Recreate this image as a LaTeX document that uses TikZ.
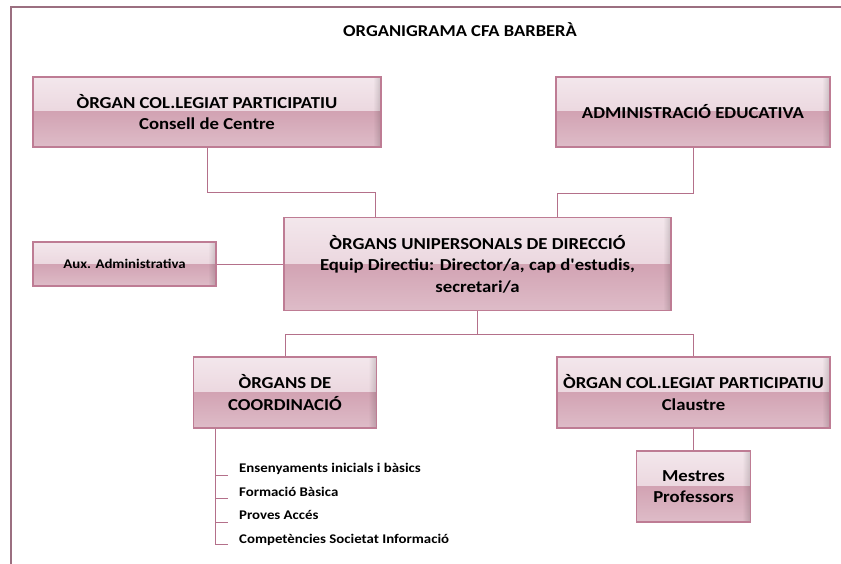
\documentclass[tikz,border=0pt]{standalone}
\usepackage{fontspec}
\newfontfamily\cf{Carlito}[FakeStretch=1.12]
\usetikzlibrary{fadings}
\definecolor{frame}{HTML}{9B6F80}
\definecolor{bord}{HTML}{BE7C94}
\definecolor{conn}{HTML}{B4708A}
\definecolor{gA}{HTML}{F3E7EC}
\definecolor{gB}{HTML}{E4C8D2}
\definecolor{gC}{HTML}{D2A3B3}
\definecolor{gD}{HTML}{DEBCC8}
\tikzset{
  orgbox/.style={draw=bord, line width=1.2bp, inner sep=2bp, align=center,
    font=\cf\bfseries\fontsize{16.8}{21.5}\selectfont,
    path picture={
      \shade[top color=gA, bottom color=gB]
        (path picture bounding box.north west) rectangle (path picture bounding box.east);
      \shade[top color=gC, bottom color=gD]
        (path picture bounding box.west) rectangle (path picture bounding box.south east);
      \fill[black, opacity=0.16, path fading=west]
        ([xshift=-8bp]path picture bounding box.north east) rectangle (path picture bounding box.south east);
    }},
  conline/.style={draw=conn, line width=1bp},
  item/.style={anchor=base west, inner sep=0pt, font=\cf\bfseries\fontsize{13.3}{15}\selectfont},
}
\begin{document}
\begin{tikzpicture}[x=1bp,y=-1bp]
\useasboundingbox (0,0) rectangle (841,564);
% frame
\draw[frame, line width=2bp] (11,566) -- (11,7) -- (843,7);
% title
\node[anchor=base, inner sep=0pt, font=\cf\bfseries\fontsize{16.6}{18}\selectfont] (title) at (460,37) {ORGANIGRAMA CFA BARBERÀ};
% boxes
\node[orgbox, minimum width=348bp, minimum height=70bp] (b1) at (207,112) {ÒRGAN COL.LEGIAT PARTICIPATIU\\Consell de Centre};
\node[orgbox, minimum width=274bp, minimum height=70bp] (b2) at (693,112) {ADMINISTRACIÓ EDUCATIVA};
\node[orgbox, minimum width=387bp, minimum height=93bp] (b3) at (477.5,264) {ÒRGANS UNIPERSONALS DE DIRECCIÓ\\Equip Directiu: Director/a, cap d'estudis,\\secretari/a};
\node[orgbox, minimum width=183bp, minimum height=44bp, font=\cf\bfseries\fontsize{13.3}{15}\selectfont] (aux) at (124.5,264) {Aux. Administrativa};
\node[orgbox, minimum width=183bp, minimum height=71bp] (b4) at (285,392.5) {ÒRGANS DE\\COORDINACIÓ};
\node[orgbox, minimum width=273bp, minimum height=71bp] (b5) at (693.5,392.5) {ÒRGAN COL.LEGIAT PARTICIPATIU\\Claustre};
\node[orgbox, minimum width=114bp, minimum height=71bp] (b6) at (693.5,486.5) {Mestres\\Professors};
% junctions
\coordinate (j1) at (375,193);
\coordinate (j2) at (557,194);
\coordinate (j3) at (477.5,334);
% connectors
\draw[conline] (b1.south) -- (b1.south |- j1) -- (j1) -- (j1 |- b3.north);
\draw[conline] (b2.south) -- (b2.south |- j2) -- (j2) -- (j2 |- b3.north);
\draw[conline] (aux.east) -- (aux.east -| b3.west);
\draw[conline] (b3.south) -- (j3);
\draw[conline] (b4.north) -- (b4.north |- j3) -- (b5.north |- j3) -- (b5.north);
\draw[conline] (b5.south) -- (b6.north);
% list
\coordinate (l0) at ([xshift=23bp]b4.south west);
\coordinate (t1) at (228,475);
\coordinate (t2) at (228,498);
\coordinate (t3) at (228,522);
\coordinate (t4) at (228,544);
\draw[conline, line width=0.9bp] (l0) |- (t4);
\draw[conline, line width=0.9bp] (l0 |- t1) -- (t1);
\draw[conline, line width=0.9bp] (l0 |- t2) -- (t2);
\draw[conline, line width=0.9bp] (l0 |- t3) -- (t3);
\node[item] (i1) at (239,472) {Ensenyaments inicials i bàsics};
\node[item] (i2) at (239,496) {Formació Bàsica};
\node[item] (i3) at (239,519) {Proves Accés};
\node[item] (i4) at (239,543) {Competències Societat Informació};
\end{tikzpicture}
\end{document}
